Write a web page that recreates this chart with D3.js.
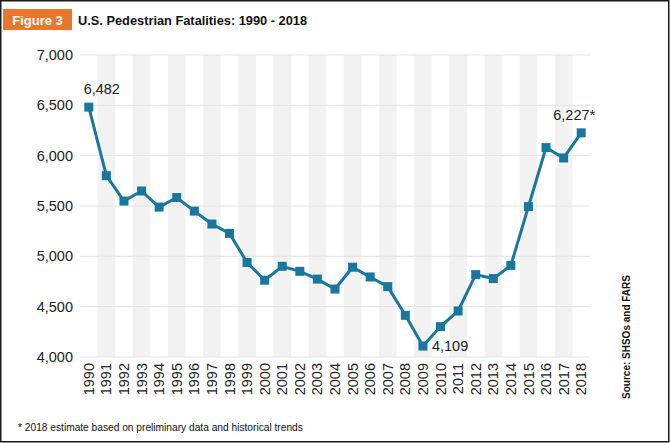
<!DOCTYPE html>
<html><head><meta charset="utf-8">
<script src="https://cdn.jsdelivr.net/npm/d3@7"></script>
<style>html,body{margin:0;padding:0;background:#fff;}svg{display:block;font-family:"Liberation Sans",Arial,sans-serif;}</style>
</head><body>
<script>
const years = [1990,1991,1992,1993,1994,1995,1996,1997,1998,1999,2000,2001,2002,2003,2004,2005,2006,2007,2008,2009,2010,2011,2012,2013,2014,2015,2016,2017,2018];
const fatalities = [6482,5801,5549,5649,5489,5584,5449,5321,5228,4939,4763,4901,4851,4774,4675,4892,4795,4699,4414,4109,4302,4457,4818,4779,4910,5494,6080,5977,6227];
const yTicks = [4000,4500,5000,5500,6000,6500,7000];
const annotations = [{year:1990,text:"6,482",pos:"top"},{year:2009,text:"4,109",pos:"right"},{year:2018,text:"6,227*",pos:"top"}];

const W=670,H=443;
const svg=d3.select("body").append("svg").attr("width",W).attr("height",H);
svg.append("rect").attr("x",0.75).attr("y",0.75).attr("width",W-2).attr("height",H-2).attr("fill","#fff").attr("stroke","#1a1a1a").attr("stroke-width",1.5);

const x=d3.scaleBand().domain(years).range([80,590]);
const y=d3.scaleLinear().domain([4000,7000]).range([357,55]);

// shaded bands for odd years
svg.append("g").selectAll("rect").data(years.filter(d=>d%2===1)).join("rect")
 .attr("x",d=>x(d)).attr("width",x.bandwidth()).attr("y",y(7000)).attr("height",y(4000)-y(7000)).attr("fill","#f2f2f2");

// gridlines
svg.append("g").selectAll("line").data(yTicks).join("line")
 .attr("x1",80).attr("x2",590).attr("y1",d=>y(d)).attr("y2",d=>y(d)).attr("stroke","#e2e2e2").attr("stroke-width",1);

// y axis labels
const yAxis=d3.axisLeft(y).tickValues(yTicks).tickFormat(d3.format(",")).tickSize(0).tickPadding(7);
const ya=svg.append("g").attr("transform","translate(80,0)").call(yAxis);
ya.select(".domain").remove();
ya.selectAll("text").attr("font-size",14.5).attr("fill","#222").attr("font-family","Liberation Sans, Arial, sans-serif");

// x axis labels
const xAxis=d3.axisBottom(x).tickSize(0).tickPadding(0);
const xa=svg.append("g").attr("transform","translate(0,"+y(4000)+")").call(xAxis);
xa.select(".domain").remove();
xa.selectAll("text").attr("font-size",14.5).attr("fill","#222").attr("font-family","Liberation Sans, Arial, sans-serif")
 .attr("transform","rotate(-90)").attr("text-anchor","end").attr("x",-6).attr("y",0).attr("dy","0.35em");

// line
const cx=d=>x(d)+x.bandwidth()/2;
const pts=years.map((d,i)=>({year:d,v:fatalities[i]}));
svg.append("path").datum(pts).attr("fill","none").attr("stroke","#1877a0").attr("stroke-width",3).attr("stroke-linejoin","miter")
 .attr("d",d3.line().x(d=>cx(d.year)).y(d=>y(d.v)));
svg.append("g").selectAll("rect").data(pts).join("rect")
 .attr("x",d=>cx(d.year)-4.5).attr("y",d=>y(d.v)-4.5).attr("width",9).attr("height",9).attr("fill","#1877a0");

// annotations
svg.append("g").selectAll("text").data(annotations).join("text")
 .attr("x",d=>d.pos==="top"?cx(d.year)+(d.year===2018?-7:13):cx(d.year)+9)
 .attr("y",d=>{const v=fatalities[years.indexOf(d.year)];return d.pos==="top"?y(v)-13:y(v)+5;})
 .attr("text-anchor",d=>d.pos==="top"?"middle":"start")
 .attr("font-size",14.5).attr("fill","#222").text(d=>d.text);

// title
svg.append("rect").attr("x",3).attr("y",9).attr("width",69).attr("height",21).attr("fill","#e8772e");
svg.append("text").attr("x",37.5).attr("y",24.5).attr("text-anchor","middle").attr("fill","#fff").attr("font-weight","bold").attr("font-size",13).text("Figure 3");
svg.append("text").attr("x",78).attr("y",24.5).attr("fill","#111").attr("font-weight","bold").attr("font-size",12.8).text("U.S. Pedestrian Fatalities: 1990 - 2018");

// source
svg.append("text").attr("transform","translate(630,337) rotate(-90)").attr("text-anchor","middle").attr("font-weight","bold").attr("font-size",10).attr("fill","#111").text("Source: SHSOs and FARS");

// footnote
svg.append("text").attr("x",18).attr("y",431).attr("font-size",10.2).attr("fill","#111").text("* 2018 estimate based on preliminary data and historical trends");
</script>
</body></html>
